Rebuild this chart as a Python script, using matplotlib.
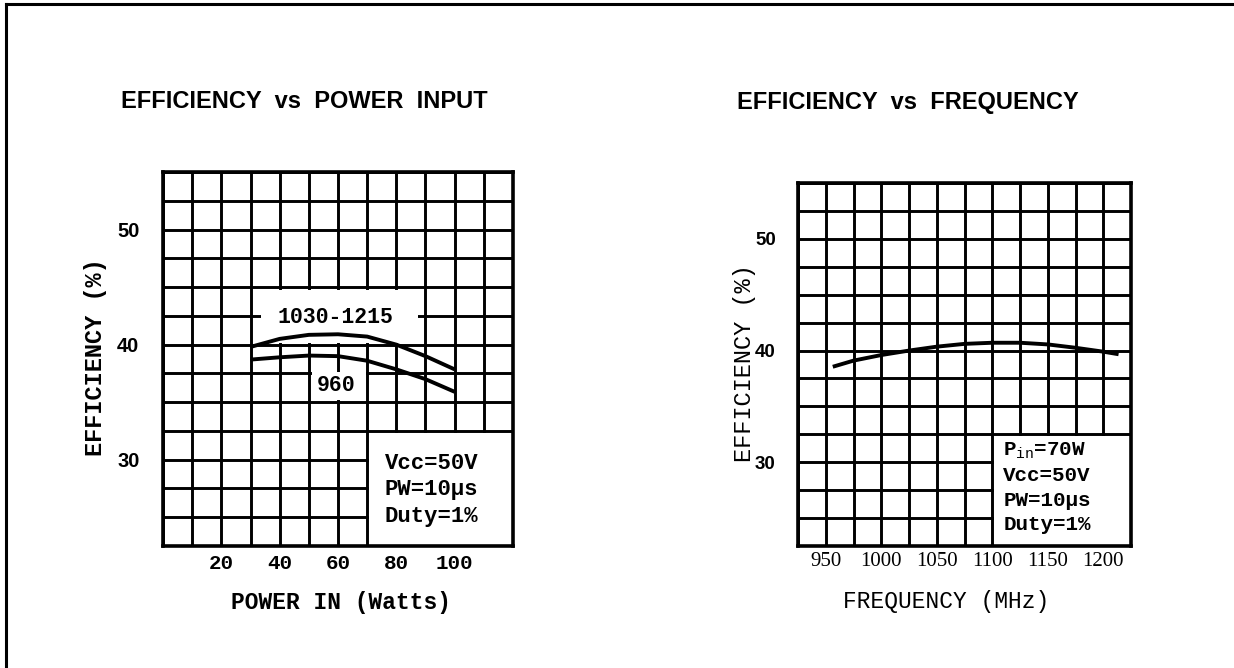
import matplotlib
matplotlib.use("Agg")
import matplotlib.pyplot as plt
from matplotlib.lines import Line2D
from matplotlib.patches import Rectangle

# data
power_in = [30, 40, 50, 60, 70, 80, 90, 100]
eff_1030_1215 = [39.8, 40.5, 40.85, 40.9, 40.7, 40.0, 39.0, 37.85]
eff_960 = [38.7, 38.9, 39.05, 39.0, 38.6, 37.85, 37.0, 35.9]

freq = [958, 975, 1000, 1025, 1050, 1075, 1100, 1125, 1150, 1175, 1200, 1212]
eff_freq = [38.6, 39.1, 39.6, 40.0, 40.35, 40.6, 40.7, 40.7, 40.55, 40.25, 39.9, 39.7]

power_ticks = [20, 40, 60, 80, 100]
freq_ticks = [950, 1000, 1050, 1100, 1150, 1200]
eff_ticks = [30, 40, 50]

cond_left = ["Vcc=50V", "PW=10\u00b5s", "Duty=1%"]
cond_right = [r"P$_{\mathrm{in}}$=70W", "Vcc=50V", "PW=10\u00b5s", "Duty=1%"]

plt.rcParams["mathtext.fontset"] = "custom"
plt.rcParams["mathtext.rm"] = "Liberation Mono"

MONO = "Liberation Mono"
SANS = "Liberation Sans"
SERIF = "Liberation Serif"
LW_GRID = 2.1

fig = plt.figure(figsize=(12.34, 6.68), dpi=100)

# page frame (top and left edge of the scan)
fig.add_artist(Line2D([0.005, 1.0], [0.994, 0.994], color="black", lw=2.2))
fig.add_artist(Line2D([0.005, 0.005], [0.0, 0.994], color="black", lw=2.2))


def setup_grid(ax, xlim, xstep, ylim):
    ax.set_xlim(*xlim)
    ax.set_ylim(*ylim)
    nx = int(round((xlim[1] - xlim[0]) / xstep))
    ax.set_xticks([xlim[0] + i * xstep for i in range(nx + 1)], minor=True)
    ax.set_yticks([ylim[0] + i * 2.5 for i in range(14)], minor=True)
    ax.grid(True, which="both", color="black", lw=LW_GRID)
    ax.set_axisbelow(True)
    ax.tick_params(which="both", length=0)
    for s in ax.spines.values():
        s.set_linewidth(2.6)


# ---- left: efficiency vs power input
ax1 = fig.add_axes([0.1321, 0.1826, 0.2836, 0.5599])
setup_grid(ax1, (0, 120), 10, (22.5, 55))
ax1.set_xticks(power_ticks)
ax1.set_xticklabels([str(v) for v in power_ticks], family=MONO, weight="bold", fontsize=15)
ax1.set_yticks(eff_ticks)
ax1.set_yticklabels([str(v) for v in eff_ticks], family=SANS, weight="bold", fontsize=14.5)
ax1.tick_params(axis="x", pad=6)
ax1.tick_params(axis="y", pad=17)

# blank areas behind the curve labels and condition box
ax1.add_patch(Rectangle((33.5, 40.15), 54, 4.6, facecolor="white", edgecolor="none"))
ax1.add_patch(Rectangle((51.0, 35.15), 18.5, 2.5, facecolor="white", edgecolor="none"))
ax1.add_patch(Rectangle((70.6, 22.5), 49.4, 9.85, facecolor="white", edgecolor="none"))

ax1.plot(power_in, eff_1030_1215, color="black", lw=2.8, solid_capstyle="butt")
ax1.plot(power_in, eff_960, color="black", lw=2.8, solid_capstyle="butt")
ax1.text(59, 42.35, "1030-1215", family=MONO, weight="bold", fontsize=15.5,
         ha="center", va="center")
ax1.text(59.5, 36.45, "960", family=MONO, weight="bold", fontsize=15.5,
         ha="center", va="center")
for i, line in enumerate(cond_left):
    ax1.text(76, 29.7 - i * 2.3, line, family=MONO, weight="bold", fontsize=16,
             ha="left", va="center")

ax1.text(0.509, -0.15, "POWER IN (Watts)", transform=ax1.transAxes, family=MONO,
         weight="bold", fontsize=16.5, ha="center", va="center")
ax1.text(-0.194, 0.505, "EFFICIENCY (%)", transform=ax1.transAxes, family=MONO,
         weight="bold", fontsize=17, ha="center", va="center", rotation=90)

# ---- right: efficiency vs frequency
ax2 = fig.add_axes([0.6467, 0.1826, 0.2699, 0.5434])
setup_grid(ax2, (925, 1225), 25, (22.5, 55))
ax2.set_xticks(freq_ticks)
ax2.set_xticklabels([str(v) for v in freq_ticks], family=SERIF, fontsize=15)
ax2.set_yticks(eff_ticks)
ax2.set_yticklabels([str(v) for v in eff_ticks], family=SANS, weight="bold", fontsize=13.5)
ax2.tick_params(axis="x", pad=4)
ax2.tick_params(axis="y", pad=16)

ax2.add_patch(Rectangle((1101.5, 22.5), 123.5, 9.85, facecolor="white", edgecolor="none"))
ax2.plot(freq, eff_freq, color="black", lw=2.8)
for i, line in enumerate(cond_right):
    ax2.text(1110, 31.0 - i * 2.2, line, family=MONO, fontsize=15, weight="bold",
             ha="left", va="center")

ax2.text(0.444, -0.153, "FREQUENCY (MHz)", transform=ax2.transAxes, family=MONO,
         fontsize=16.5, ha="center", va="center")
ax2.text(-0.162, 0.504, "EFFICIENCY (%)", transform=ax2.transAxes, family=MONO,
         fontsize=17, ha="center", va="center", rotation=90)

# titles
fig.text(304 / 1234, 1 - 101 / 668, "EFFICIENCY  vs  POWER  INPUT", family=SANS,
         weight="bold", fontsize=17, ha="center", va="center")
fig.text(908 / 1234, 1 - 103 / 668, "EFFICIENCY  vs  FREQUENCY", family=SANS,
         weight="bold", fontsize=17, ha="center", va="center")

fig.savefig("out.png", dpi=100, facecolor="white")
